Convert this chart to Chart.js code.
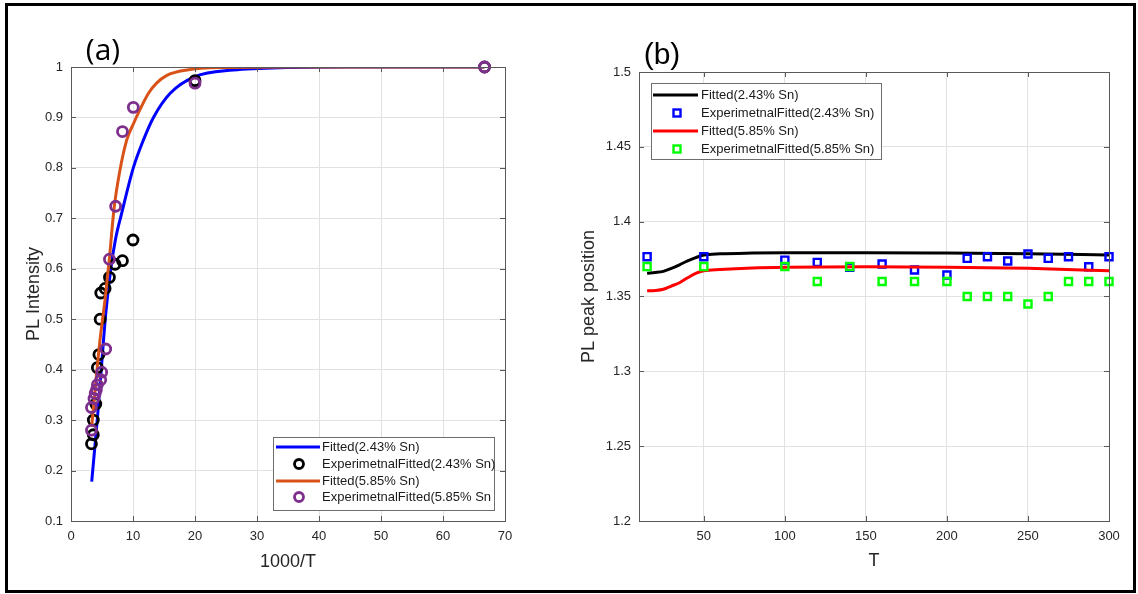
<!DOCTYPE html>
<html><head><meta charset="utf-8">
<script src="https://cdn.jsdelivr.net/npm/chart.js@4"></script>
<style>
html,body{margin:0;padding:0;background:#fff;}
#wrap{position:relative;width:1138px;height:594px;overflow:hidden;background:#fff;}
#ca{position:absolute;left:0;top:0;}
#cb{position:absolute;left:560px;top:0;}
#frame{position:absolute;left:5px;top:3px;width:1125px;height:584px;border:3px solid #000;pointer-events:none;}
</style></head>
<body>
<div id="wrap">
<canvas id="ca" width="560" height="594" style="width:560px;height:594px"></canvas>
<canvas id="cb" width="578" height="594" style="width:578px;height:594px"></canvas>
<div id="frame"></div>
</div>
<script>
// ---------- Panel (a) data ----------
const aXTicks = [0,10,20,30,40,50,60,70];
const aYTicks = [0.1,0.2,0.3,0.4,0.5,0.6,0.7,0.8,0.9,1];
const aFitLowX  = [3.34,4.3,5.0,5.6,6.4,7.2,8.17,10.05,11.67,13.3,16,20,26.2,35,45,66.7];
const aFitLowY  = [0.178,0.31,0.42,0.51,0.598,0.66,0.71,0.80,0.855,0.90,0.948,0.981,0.994,0.999,1,1];
const aFitHighX = [3.33,4.68,5.48,6.18,6.95,7.8,8.98,10.16,11.1,12.5,13.8,15.4,18.7,25,35,66.7];
const aFitHighY = [0.287,0.459,0.538,0.619,0.72,0.789,0.855,0.89,0.915,0.948,0.968,0.983,0.994,0.999,1,1];
const aExpLowX  = [3.3,3.6,3.6,4.0,4.25,4.5,4.7,4.8,5.5,6.2,7.1,8.3,10,20,66.7];
const aExpLowY  = [0.253,0.271,0.30,0.332,0.404,0.43,0.50,0.552,0.561,0.583,0.609,0.616,0.657,0.973,1.0];
const aExpHighX = [3.3,3.3,3.7,3.9,4.1,4.25,4.8,4.95,5.6,6.2,7.2,8.3,10.05,20,66.7];
const aExpHighY = [0.280,0.325,0.343,0.353,0.36,0.37,0.38,0.395,0.441,0.619,0.724,0.872,0.92,0.968,1.0];

// ---------- Panel (b) data ----------
const bXTicks = [50,100,150,200,250,300];
const bYTicks = [1.2,1.25,1.3,1.35,1.4,1.45,1.5];
const bT       = [15,50,100,120,140,160,180,200,212.5,225,237.5,250,262.5,275,287.5,300];
const bExpLow  = [1.3766,1.3766,1.3743,1.3728,1.3695,1.3717,1.3677,1.3643,1.3755,1.3766,1.3737,1.3784,1.3755,1.3766,1.3699,1.3766];
const bExpHigh = [1.37,1.37,1.37,1.36,1.37,1.36,1.36,1.36,1.35,1.35,1.35,1.345,1.35,1.36,1.36,1.36];
const bFitT    = [15,20,25,30,35,40,45,50,60,80,100,150,200,250,300];
const bFitLow  = [1.3655,1.366,1.3668,1.3688,1.3712,1.3738,1.376,1.3777,1.3785,1.379,1.3792,1.3793,1.379,1.3785,1.3777];
const bFitHigh = [1.3538,1.354,1.3548,1.357,1.3592,1.3625,1.3655,1.3672,1.368,1.369,1.3695,1.3699,1.3696,1.3688,1.3672];

const zip = (xs, ys) => xs.map((x, i) => ({x: x, y: ys[i]}));
const FONT = "'Liberation Sans', Arial, sans-serif";
const AXIS_COL = '#595959';
const GRID_COL = '#e2e2e2';
const TXT_COL = '#262626';

function framePlugin(cfg) {
  return {
    id: 'frameDeco',
    afterDatasetsDraw(chart) {
      const ctx = chart.ctx, a = chart.chartArea;
      const xs = chart.scales.x, ys = chart.scales.y;
      ctx.save();
      ctx.strokeStyle = AXIS_COL; ctx.lineWidth = 1;
      ctx.strokeRect(Math.round(a.left) + 0.5, Math.round(a.top) + 0.5, Math.round(a.right - a.left), Math.round(a.bottom - a.top));
      ctx.beginPath();
      const L = 5;
      xs.ticks.forEach(t => {
        const px = Math.round(xs.getPixelForValue(t.value)) + 0.5;
        ctx.moveTo(px, a.bottom); ctx.lineTo(px, a.bottom - L);
        ctx.moveTo(px, a.top); ctx.lineTo(px, a.top + L);
      });
      ys.ticks.forEach(t => {
        const py = Math.round(ys.getPixelForValue(t.value)) + 0.5;
        ctx.moveTo(a.left, py); ctx.lineTo(a.left + L, py);
        ctx.moveTo(a.right, py); ctx.lineTo(a.right - L, py);
      });
      ctx.stroke();
      ctx.restore();
    },
    afterDraw(chart) {
      const ctx = chart.ctx;
      ctx.save();
      ctx.fillStyle = '#000';
      ctx.font = cfg.labelFont;
      ctx.textAlign = 'center'; ctx.textBaseline = 'alphabetic';
      ctx.fillText(cfg.label, cfg.labelX, cfg.labelY);
      const lg = cfg.legend;
      ctx.fillStyle = '#fff';
      ctx.fillRect(lg.x, lg.y, lg.w, lg.h);
      ctx.strokeStyle = '#6e6e6e'; ctx.lineWidth = 1;
      ctx.strokeRect(lg.x + 0.5, lg.y + 0.5, lg.w, lg.h);
      ctx.font = '13px ' + FONT;
      ctx.textAlign = 'left'; ctx.textBaseline = 'middle';
      lg.items.forEach((it, i) => {
        const ds = chart.data.datasets[it.ds];
        const y = lg.rows[i];
        if (it.type === 'line') {
          ctx.strokeStyle = ds.borderColor; ctx.lineWidth = 3;
          ctx.beginPath(); ctx.moveTo(lg.lx0, y); ctx.lineTo(lg.lx1, y); ctx.stroke();
        } else if (it.type === 'circle') {
          ctx.strokeStyle = ds.pointBorderColor; ctx.lineWidth = 2.8;
          ctx.beginPath(); ctx.arc(lg.mx, y, 4.5, 0, Math.PI * 2); ctx.stroke();
        } else {
          ctx.strokeStyle = ds.pointBorderColor; ctx.lineWidth = 2.4;
          ctx.strokeRect(lg.mx - 3.5, y - 3.5, 7, 7);
        }
        ctx.fillStyle = '#1a1a1a';
        ctx.fillText(ds.label, lg.tx, y + 0.5);
      });
      ctx.restore();
    }
  };
}

function axisOpts(min, max, ticksArr, fmt, title, fitFn, titlePad) {
  return {
    type: 'linear', min: min, max: max,
    afterBuildTicks: s => { s.ticks = ticksArr.map(v => ({value: v})); },
    afterFit: fitFn,
    grid: {color: GRID_COL, drawTicks: false, lineWidth: 1},
    border: {display: true, color: AXIS_COL},
    ticks: {padding: 8, color: TXT_COL, font: {family: FONT, size: 13}, maxRotation: 0, autoSkip: false, callback: fmt},
    title: {display: true, text: title, color: TXT_COL, font: {family: FONT, size: 18}, padding: titlePad}
  };
}

// ---------- Chart (a) ----------
new Chart(document.getElementById('ca'), {
  type: 'scatter',
  data: {
    datasets: [
      {label: 'Fitted(2.43% Sn)', data: zip(aFitLowX, aFitLowY), showLine: true, borderColor: '#0000ff', borderWidth: 3, pointRadius: 0, tension: 0.4, cubicInterpolationMode: 'monotone', order: 4},
      {label: 'ExperimetnalFitted(2.43% Sn)', data: zip(aExpLowX, aExpLowY), showLine: false, pointStyle: 'circle', pointRadius: 5, pointBorderWidth: 2.8, pointBorderColor: '#000000', pointBackgroundColor: 'rgba(0,0,0,0)', borderColor: '#000000', clip: false, order: 3},
      {label: 'Fitted(5.85% Sn)', data: zip(aFitHighX, aFitHighY), showLine: true, borderColor: '#D95319', borderWidth: 3, pointRadius: 0, tension: 0.4, cubicInterpolationMode: 'monotone', order: 2},
      {label: 'ExperimetnalFitted(5.85% Sn', data: zip(aExpHighX, aExpHighY), showLine: false, pointStyle: 'circle', pointRadius: 5, pointBorderWidth: 2.8, pointBorderColor: '#7E2F8E', pointBackgroundColor: 'rgba(0,0,0,0)', borderColor: '#7E2F8E', clip: false, order: 1}
    ]
  },
  options: {
    responsive: false, animation: false, devicePixelRatio: 1,
    layout: {padding: {left: 20, top: 67, right: 55, bottom: 20}},
    plugins: {legend: {display: false}, tooltip: {enabled: false}},
    scales: {
      x: axisOpts(0, 70, aXTicks, v => String(v), '1000/T', s => { s.height = 53; }, {top: 0, bottom: 1}),
      y: axisOpts(0.1, 1, aYTicks, v => String(+v.toFixed(2)), 'PL Intensity', s => { s.width = 51; }, {top: 3, bottom: 0})
    }
  },
  plugins: [framePlugin({
    label: '(a)', labelX: 103, labelY: 60, labelFont: '30px ' + "'Open Sans', sans-serif",
    legend: {x: 273, y: 437, w: 221, h: 73, rows: [447, 464, 481, 497], lx0: 276, lx1: 320, mx: 299, tx: 322,
      items: [{ds: 0, type: 'line'}, {ds: 1, type: 'circle'}, {ds: 2, type: 'line'}, {ds: 3, type: 'circle'}]}
  })]
});

// ---------- Chart (b) ----------
new Chart(document.getElementById('cb'), {
  type: 'scatter',
  data: {
    datasets: [
      {label: 'Fitted(2.43% Sn)', data: zip(bFitT, bFitLow), showLine: true, borderColor: '#000000', borderWidth: 3, pointRadius: 0, tension: 0.4, cubicInterpolationMode: 'monotone', order: 4},
      {label: 'ExperimetnalFitted(2.43% Sn)', data: zip(bT, bExpLow), showLine: false, pointStyle: 'rect', pointRadius: 5, pointBorderWidth: 2.4, pointBorderColor: '#0000ff', pointBackgroundColor: 'rgba(0,0,0,0)', borderColor: '#0000ff', clip: false, order: 3},
      {label: 'Fitted(5.85% Sn)', data: zip(bFitT, bFitHigh), showLine: true, borderColor: '#ff0000', borderWidth: 3, pointRadius: 0, tension: 0.4, cubicInterpolationMode: 'monotone', order: 2},
      {label: 'ExperimetnalFitted(5.85% Sn)', data: zip(bT, bExpHigh), showLine: false, pointStyle: 'rect', pointRadius: 5, pointBorderWidth: 2.4, pointBorderColor: '#00ff00', pointBackgroundColor: 'rgba(0,0,0,0)', borderColor: '#00ff00', clip: false, order: 1}
    ]
  },
  options: {
    responsive: false, animation: false, devicePixelRatio: 1,
    layout: {padding: {left: 16, top: 72, right: 29, bottom: 20}},
    plugins: {legend: {display: false}, tooltip: {enabled: false}},
    scales: {
      x: axisOpts(10, 300, bXTicks, v => String(v), 'T', s => { s.height = 53; }, {top: 0, bottom: 2}),
      y: axisOpts(1.2, 1.5, bYTicks, v => String(+v.toFixed(2)), 'PL peak position', s => { s.width = 63; }, {top: 2, bottom: 0})
    }
  },
  plugins: [framePlugin({
    label: '(b)', labelX: 102, labelY: 64, labelFont: '30px ' + "'Liberation Sans', sans-serif",
    legend: {x: 91, y: 83, w: 230, h: 76, rows: [95, 113, 131, 149], lx0: 93, lx1: 138, mx: 117, tx: 141,
      items: [{ds: 0, type: 'line'}, {ds: 1, type: 'rect'}, {ds: 2, type: 'line'}, {ds: 3, type: 'rect'}]}
  })]
});
</script>
</body></html>
